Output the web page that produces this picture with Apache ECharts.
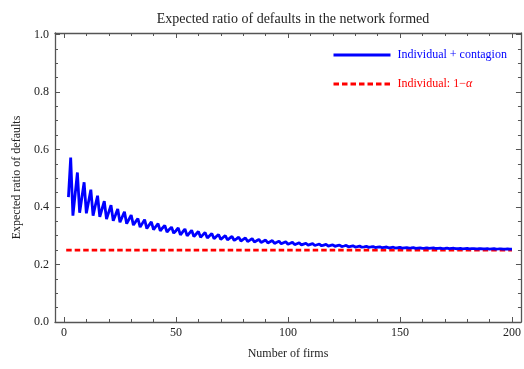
<!DOCTYPE html>
<html lang="en">
<head>
    <meta charset="UTF-8">
    <title>Expected ratio of defaults</title>
    <script src="https://cdn.jsdelivr.net/npm/echarts@6/dist/echarts.min.js"></script>
    <style>
        body { margin: 0; background: #fff; }
    </style>
</head>
<body>
    <div id="main" style="width: 524px;height: 369px"></div>
    <script type="application/javascript">
        // expected ratio of defaults, n = 2 .. 200
        var ratio = [
            0.434,
            0.572, 0.370, 0.445,
            0.520, 0.380, 0.433,
            0.486, 0.378, 0.419,
            0.460, 0.370, 0.405,
            0.439, 0.366, 0.393,
            0.420, 0.358, 0.382,
            0.406, 0.352, 0.372,
            0.393, 0.347, 0.365,
            0.383, 0.342, 0.357,
            0.372, 0.337, 0.349,
            0.360, 0.330, 0.343,
            0.356, 0.325, 0.337,
            0.348, 0.321, 0.332,
            0.342, 0.317, 0.327,
            0.336, 0.313, 0.322,
            0.330, 0.309, 0.3175,
            0.327, 0.3028, 0.3131,
            0.3235, 0.2996, 0.3093,
            0.3190, 0.2969, 0.3060,
            0.3151, 0.2945, 0.3030,
            0.3115, 0.2921, 0.3000,
            0.3079, 0.2897, 0.2970,
            0.3043, 0.2873, 0.2940,
            0.3007, 0.2853, 0.2915,
            0.2978, 0.2835, 0.2893,
            0.2952, 0.2817, 0.2871,
            0.2926, 0.2799, 0.2849,
            0.2900, 0.2781, 0.2827,
            0.2874, 0.2765, 0.2808,
            0.2852, 0.2749, 0.2790,
            0.2831, 0.2734, 0.2772,
            0.2811, 0.2718, 0.2754,
            0.2790, 0.2703, 0.2736,
            0.2770, 0.2691, 0.2722,
            0.2753, 0.2681, 0.2710,
            0.2739, 0.2671, 0.2698,
            0.2725, 0.2661, 0.2686,
            0.2711, 0.2651, 0.2674,
            0.2697, 0.2642, 0.2663,
            0.2685, 0.2633, 0.2653,
            0.2673, 0.2625, 0.2643,
            0.2662, 0.2616, 0.2633,
            0.2650, 0.2608, 0.2623,
            0.2639, 0.2602, 0.2616,
            0.2631, 0.2596, 0.2609,
            0.2623, 0.2589, 0.2602,
            0.2615, 0.2584, 0.2596,
            0.2608, 0.2578, 0.2589,
            0.2600, 0.2572, 0.2582,
            0.2593, 0.2568, 0.2578,
            0.2588, 0.2566, 0.2575,
            0.2585, 0.2563, 0.2572,
            0.2581, 0.2561, 0.2569,
            0.2578, 0.2558, 0.2566,
            0.2574, 0.2556, 0.2563,
            0.2571, 0.2553, 0.2560,
            0.2568, 0.2550, 0.2557,
            0.2564, 0.2548, 0.2554,
            0.2561, 0.2546, 0.2552,
            0.2558, 0.2543, 0.2549,
            0.2555, 0.2542, 0.2547,
            0.2553, 0.2540, 0.2545,
            0.2550, 0.2537, 0.2542,
            0.2547, 0.2536, 0.2540,
            0.2545, 0.2533, 0.2537,
            0.2541, 0.2531, 0.2535
        ];
        var firms = ratio.map(function (v, i) { return i + 2; });

        // individual default level 1 - alpha
        var baseFirms = [1, 200];
        var baseRatio = [0.25, 0.25];

        var xMajor = [0, 50, 100, 150, 200];
        var xMinor = [10, 20, 30, 40, 60, 70, 80, 90, 110, 120, 130, 140, 160, 170, 180, 190];
        var yMajor = [0, 0.2, 0.4, 0.6, 0.8, 1.0];
        var yMinor = [0.05, 0.1, 0.15, 0.25, 0.3, 0.35, 0.45, 0.5, 0.55, 0.65, 0.7, 0.75, 0.85, 0.9, 0.95];

        var FONT = '"Liberation Serif", "Times New Roman", serif';
        var FRAME = '#555555';

        function zip(a, b) {
            var out = [];
            for (var i = 0; i < a.length; i++) out.push([a[i], b[i]]);
            return out;
        }

        function xAx(pos, ticks, len, labels, line) {
            return {
                type: 'value', position: pos, min: -4, max: 204,
                axisLine: { show: line, onZero: false, lineStyle: { color: FRAME, width: 1.3 } },
                axisTick: { show: true, inside: true, length: len, customValues: ticks,
                    lineStyle: { color: FRAME, width: 1 } },
                axisLabel: labels ? { show: true, customValues: ticks, margin: 5,
                    fontFamily: FONT, fontSize: 12, color: '#222' } : { show: false },
                splitLine: { show: false }
            };
        }
        function yAx(pos, ticks, len, labels, line) {
            return {
                type: 'value', position: pos, min: 0, max: 1.005,
                axisLine: { show: line, onZero: false, lineStyle: { color: FRAME, width: 1.3 } },
                axisTick: { show: true, inside: true, length: len, customValues: ticks,
                    lineStyle: { color: FRAME, width: 1 } },
                axisLabel: labels ? { show: true, customValues: ticks, margin: 6,
                    fontFamily: FONT, fontSize: 12, color: '#222',
                    formatter: function (v) { return v.toFixed(1); } } : { show: false },
                splitLine: { show: false }
            };
        }

        var myChart = echarts.init(document.getElementById('main'));

        var xBottom = xAx('bottom', xMajor, 5, true, true);
        xBottom.name = 'Number of firms';
        xBottom.nameLocation = 'middle';
        xBottom.nameGap = 26;
        xBottom.nameTextStyle = { fontFamily: FONT, fontSize: 12, color: '#222' };

        var yLeft = yAx('left', yMajor, 5, true, true);
        yLeft.name = 'Expected ratio of defaults';
        yLeft.nameLocation = 'middle';
        yLeft.nameGap = 31;
        yLeft.nameTextStyle = { fontFamily: FONT, fontSize: 12, color: '#222' };

        var option = {
            animation: false,
            title: {
                text: 'Expected ratio of defaults in the network formed',
                left: 288, top: 7, textAlign: 'center',
                textStyle: { fontFamily: FONT, fontSize: 14, fontWeight: 'normal', color: '#222' }
            },
            grid: { left: 55, right: 2, top: 33, bottom: 47 },
            legend: {
                orient: 'vertical',
                left: 327, top: 44,
                itemWidth: 57, itemHeight: 14, itemGap: 17,
                itemStyle: { opacity: 0 },
                lineStyle: { width: 3 },
                data: ['Individual + contagion', 'Individual: 1−α'],
                formatter: function (name) {
                    if (name === 'Individual: 1−α') return '{r|Individual: 1−}{ri|α}';
                    return '{b|' + name + '}';
                },
                textStyle: {
                    fontFamily: FONT, fontSize: 12, padding: [0, 0, 0, 2],
                    rich: {
                        b: { fontFamily: FONT, fontSize: 12, color: '#0000ff' },
                        r: { fontFamily: FONT, fontSize: 12, color: '#ff0000' },
                        ri: { fontFamily: FONT, fontSize: 12, color: '#ff0000', fontStyle: 'italic' }
                    }
                }
            },
            xAxis: [
                xBottom,
                xAx('bottom', xMinor, 3, false, false),
                xAx('top', xMajor, 5, false, true),
                xAx('top', xMinor, 3, false, false)
            ],
            yAxis: [
                yLeft,
                yAx('left', yMinor, 3, false, false),
                yAx('right', yMajor, 5, false, true),
                yAx('right', yMinor, 3, false, false)
            ],
            series: [
                {
                    name: 'Individual + contagion',
                    type: 'line',
                    xAxisIndex: 0, yAxisIndex: 0,
                    showSymbol: false, symbol: 'none',
                    lineStyle: { color: '#0000ff', width: 2.8 },
                    itemStyle: { color: '#0000ff' },
                    data: zip(firms, ratio),
                    z: 3
                },
                {
                    name: 'Individual: 1−α',
                    type: 'line',
                    xAxisIndex: 0, yAxisIndex: 0,
                    showSymbol: false, symbol: 'none',
                    lineStyle: { color: '#ff0000', width: 2.6, type: [5.5, 3] },
                    itemStyle: { color: '#ff0000' },
                    data: zip(baseFirms, baseRatio),
                    z: 2
                }
            ]
        };
        myChart.setOption(option, true);
    </script>
</body>
</html>
